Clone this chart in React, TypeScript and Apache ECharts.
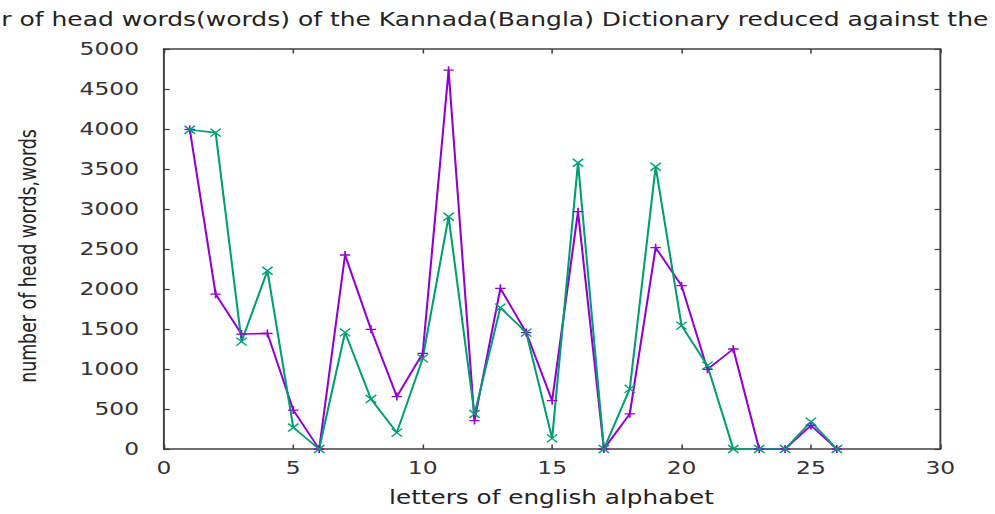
import React, { useEffect, useRef } from "react";
import * as echarts from "echarts";

const letters = [1, 2, 3, 4, 5, 6, 7, 8, 9, 10, 11, 12, 13, 14, 15, 16, 17, 18, 19, 20, 21, 22, 23, 24, 25, 26];
const headWords = [3995, 1935, 1437, 1445, 487, 0, 2425, 1496, 655, 1196, 4735, 355, 2008, 1455, 604, 2967, 0, 440, 2517, 2042, 996, 1250, 0, 0, 295, 0];
const words = [3990, 3955, 1342, 2229, 268, 0, 1458, 625, 205, 1133, 2904, 437, 1767, 1455, 133, 3579, 0, 752, 3529, 1542, 1042, 0, 0, 0, 342, 0];

const titleText = "r of head words(words) of the Kannada(Bangla) Dictionary reduced against the";
const xAxisTitle = "letters of english alphabet";
const yAxisTitle = "number of head words,words";

const S = 995 / 765;
const W = 765;
const H = 514;
const FONT = "DejaVu Sans";
const AXIS_COLOR = "#404040";
const TEXT_COLOR = "#333";

const plusPath = "path://M0,5L10,5M5,0L5,10";
const crossPath = "path://M0,0L10,10M10,0L0,10";

export default function App() {
  const ref = useRef<HTMLDivElement>(null);
  useEffect(() => {
    document.body.style.margin = "0";
    if (!ref.current) return;
    const chart = echarts.init(ref.current, null, { renderer: "svg" });
    const axisCommon = {
      min: 0,
      axisLine: { show: true, onZero: false, lineStyle: { color: AXIS_COLOR, width: 1.5 } },
      axisTick: { show: true, inside: true, length: 4.5, lineStyle: { color: AXIS_COLOR, width: 1.2 } },
      splitLine: { show: false },
    };
    const plain = (v: number) => String(v);
    chart.setOption({
      animation: false,
      backgroundColor: "#ffffff",
      grid: { left: 126, right: 42, top: 49, bottom: 65 },
      xAxis: [
        {
          ...axisCommon,
          type: "value",
          max: 30,
          interval: 5,
          position: "bottom",
          axisLabel: { color: TEXT_COLOR, fontFamily: FONT, fontSize: 18, margin: 10, formatter: plain },
        },
        {
          ...axisCommon,
          type: "value",
          max: 30,
          interval: 5,
          position: "top",
          axisLabel: { show: false },
        },
      ],
      yAxis: [
        {
          ...axisCommon,
          type: "value",
          max: 5000,
          interval: 500,
          position: "left",
          axisLabel: { color: TEXT_COLOR, fontFamily: FONT, fontSize: 18, margin: 19, formatter: plain },
        },
        {
          ...axisCommon,
          type: "value",
          max: 5000,
          interval: 500,
          position: "right",
          axisLabel: { show: false },
        },
      ],
      graphic: [
        {
          type: "text",
          x: 1,
          y: 19,
          style: { text: titleText, font: `19.2px "${FONT}"`, fill: "#222", align: "left", verticalAlign: "middle" },
        },
        {
          type: "text",
          x: 22,
          y: 256,
          rotation: Math.PI / 2,
          style: { text: yAxisTitle, font: `17.4px "${FONT}"`, fill: "#222", align: "center", verticalAlign: "middle" },
        },
        {
          type: "text",
          x: 424,
          y: 498,
          style: { text: xAxisTitle, font: `19px "${FONT}"`, fill: "#222", align: "center", verticalAlign: "middle" },
        },
      ],
      series: [
        {
          type: "line",
          xAxisIndex: 0,
          yAxisIndex: 0,
          data: letters.map((x, i) => [x, headWords[i]]),
          lineStyle: { color: "#9400d3", width: 1.6 },
          symbol: plusPath,
          symbolSize: 8,
          showAllSymbol: true,
          itemStyle: { color: "none", borderColor: "#9400d3", borderWidth: 1.3 },
        },
        {
          type: "line",
          xAxisIndex: 0,
          yAxisIndex: 0,
          data: letters.map((x, i) => [x, words[i]]),
          lineStyle: { color: "#009e73", width: 1.6 },
          symbol: crossPath,
          symbolSize: 8,
          showAllSymbol: true,
          itemStyle: { color: "none", borderColor: "#009e73", borderWidth: 1.3 },
        },
      ],
    });
    return () => chart.dispose();
  }, []);
  return (
    <div style={{ position: "absolute", left: 0, top: 0, width: 995, height: H, overflow: "hidden", background: "#fff" }}>
      <div
        ref={ref}
        style={{ width: W, height: H, transform: `scaleX(${S})`, transformOrigin: "0 0" }}
      />
    </div>
  );
}
